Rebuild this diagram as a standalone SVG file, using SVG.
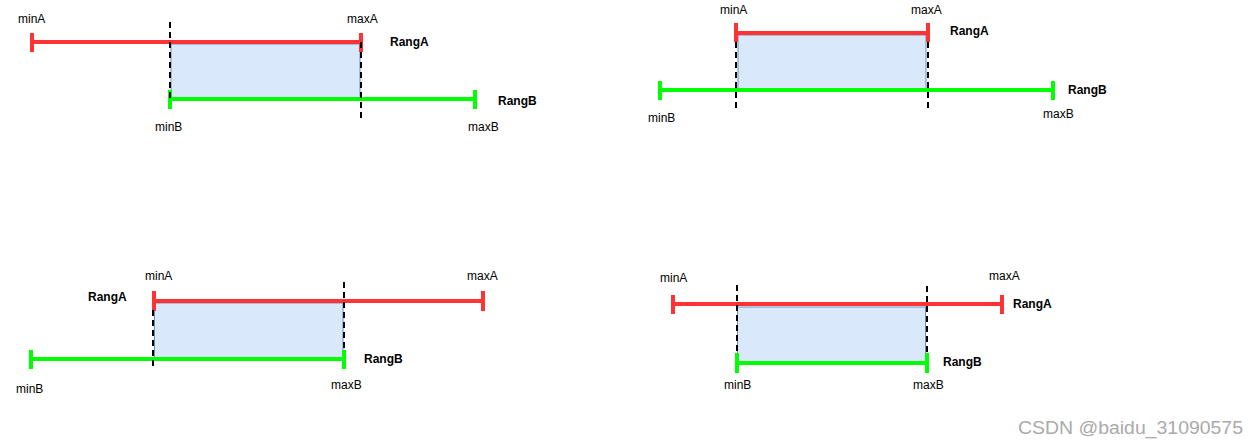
<svg xmlns="http://www.w3.org/2000/svg" width="1260" height="447" viewBox="0 0 1260 447">
<style>
.bg{fill:#ffffff}
.ov{fill:#dae8fc;stroke:#6c8ebf;stroke-width:1}
.ra{stroke:#ff3333;stroke-width:4;fill:none}
.rb{stroke:#00ff00;stroke-width:4;fill:none}
.dl{stroke:#000000;stroke-width:2;stroke-dasharray:6 4;fill:none}
.t{font-family:"Liberation Sans",Arial,sans-serif;font-size:12px;fill:#000000}
.b{font-family:"Liberation Sans",Arial,sans-serif;font-size:12px;font-weight:bold;fill:#000000}
.wm{font-family:"Liberation Sans",Arial,sans-serif;font-size:17.5px;fill:#aaaaaa}
</style>
<rect class="bg" x="0" y="0" width="1260" height="447"/>

<g id="case1">
  <rect class="ov" x="171" y="44" width="189" height="54"/>
  <g id="case1-rangeA">
    <line class="ra" x1="32" y1="42" x2="361" y2="42"/>
    <line class="ra" x1="32" y1="33" x2="32" y2="52"/>
    <line class="ra" x1="361" y1="33" x2="361" y2="52"/>
  </g>
  <g id="case1-rangeB">
    <line class="rb" x1="170" y1="99" x2="475" y2="99"/>
    <line class="rb" x1="170" y1="90" x2="170" y2="109"/>
    <line class="rb" x1="475" y1="90" x2="475" y2="109"/>
  </g>
  <g id="case1-guides">
    <line class="dl" x1="170" y1="22" x2="170" y2="99"/>
    <line class="dl" x1="361" y1="42" x2="361" y2="121"/>
  </g>
  <text class="t" x="18" y="23">minA</text>
  <text class="t" x="347" y="23">maxA</text>
  <text class="b" x="390" y="46">RangA</text>
  <text class="b" x="498" y="105">RangB</text>
  <text class="t" x="155" y="131">minB</text>
  <text class="t" x="468" y="131">maxB</text>
</g>

<g id="case2">
  <rect class="ov" x="738" y="35" width="188" height="54"/>
  <g id="case2-rangeA">
    <line class="ra" x1="736" y1="33" x2="928" y2="33"/>
    <line class="ra" x1="736" y1="23" x2="736" y2="42"/>
    <line class="ra" x1="928" y1="23" x2="928" y2="42"/>
  </g>
  <g id="case2-rangeB">
    <line class="rb" x1="660" y1="90" x2="1053" y2="90"/>
    <line class="rb" x1="660" y1="81" x2="660" y2="100"/>
    <line class="rb" x1="1053" y1="81" x2="1053" y2="100"/>
  </g>
  <g id="case2-guides">
    <line class="dl" x1="736" y1="42" x2="736" y2="110"/>
    <line class="dl" x1="928" y1="42" x2="928" y2="110"/>
  </g>
  <text class="t" x="720" y="14">minA</text>
  <text class="t" x="911" y="14">maxA</text>
  <text class="b" x="950" y="35">RangA</text>
  <text class="b" x="1068" y="94">RangB</text>
  <text class="t" x="648" y="122">minB</text>
  <text class="t" x="1043" y="118">maxB</text>
</g>

<g id="case3">
  <rect class="ov" x="154.5" y="303" width="188.5" height="55"/>
  <g id="case3-rangeA">
    <line class="ra" x1="154" y1="301" x2="483" y2="301"/>
    <line class="ra" x1="154" y1="291" x2="154" y2="311"/>
    <line class="ra" x1="483" y1="291" x2="483" y2="311"/>
  </g>
  <g id="case3-rangeB">
    <line class="rb" x1="31" y1="359" x2="344" y2="359"/>
    <line class="rb" x1="31" y1="350" x2="31" y2="369"/>
    <line class="rb" x1="344" y1="350" x2="344" y2="369"/>
  </g>
  <g id="case3-guides">
    <line class="dl" x1="153" y1="310" x2="153" y2="370"/>
    <line class="dl" x1="344" y1="282" x2="344" y2="350"/>
  </g>
  <text class="t" x="145" y="280">minA</text>
  <text class="t" x="467" y="280">maxA</text>
  <text class="b" x="88" y="301">RangA</text>
  <text class="b" x="364" y="363">RangB</text>
  <text class="t" x="16" y="393">minB</text>
  <text class="t" x="331" y="389">maxB</text>
</g>

<g id="case4">
  <rect class="ov" x="737.5" y="307" width="188" height="55"/>
  <g id="case4-rangeA">
    <line class="ra" x1="673" y1="304" x2="1002" y2="304"/>
    <line class="ra" x1="673" y1="295" x2="673" y2="314"/>
    <line class="ra" x1="1002" y1="295" x2="1002" y2="314"/>
  </g>
  <g id="case4-rangeB">
    <line class="rb" x1="737" y1="363" x2="927" y2="363"/>
    <line class="rb" x1="737" y1="353" x2="737" y2="373"/>
    <line class="rb" x1="927" y1="353" x2="927" y2="373"/>
  </g>
  <g id="case4-guides">
    <line class="dl" x1="737" y1="285" x2="737" y2="353"/>
    <line class="dl" x1="927" y1="286" x2="927" y2="353"/>
  </g>
  <text class="t" x="660" y="282">minA</text>
  <text class="t" x="989" y="280">maxA</text>
  <text class="b" x="1013" y="308">RangA</text>
  <text class="b" x="943" y="366">RangB</text>
  <text class="t" x="724" y="389">minB</text>
  <text class="t" x="913" y="389">maxB</text>
</g>

<text class="wm" x="1018" y="434" textLength="225" lengthAdjust="spacingAndGlyphs">CSDN @baidu_31090575</text>
</svg>
